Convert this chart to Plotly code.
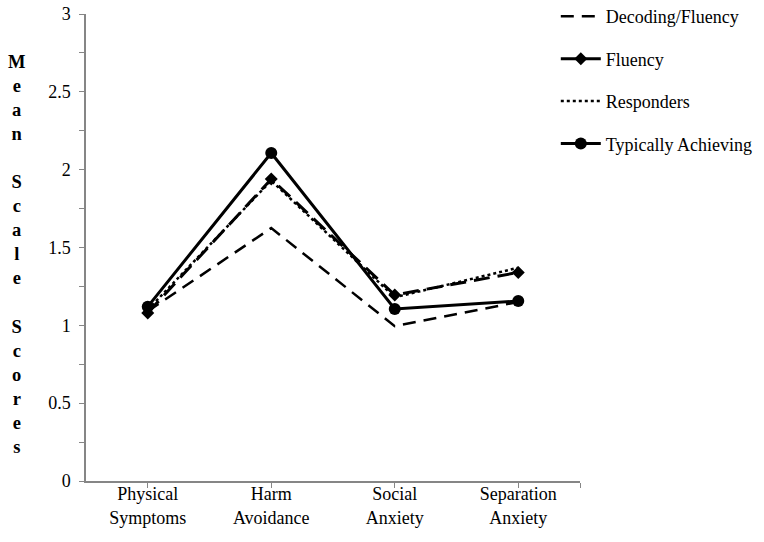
import plotly.graph_objects as go

categories = ["Physical<br>Symptoms", "Harm<br>Avoidance", "Social<br>Anxiety", "Separation<br>Anxiety"]
decoding_fluency = [1.09, 1.625, 0.995, 1.15]
fluency = [1.08, 1.94, 1.195, 1.34]
responders = [1.10, 1.93, 1.18, 1.37]
typically_achieving = [1.12, 2.107, 1.105, 1.156]

y_title_letters = list("Mean") + [""] + list("Scale") + [""] + list("Scores")

xs = list(range(len(categories)))
FONT = "Liberation Serif, Times New Roman, serif"

fig = go.Figure()
fig.add_trace(go.Scatter(x=xs, y=decoding_fluency, name="Decoding/Fluency", mode="lines",
                         line=dict(color="black", width=2.5, dash="13px,8px"), legendgroup="a"))
fig.add_trace(go.Scatter(x=xs, y=fluency, name="Fluency", mode="lines+markers",
                         line=dict(color="black", width=3, dash="16px,8px"),
                         marker=dict(symbol="diamond", size=10, color="black"), legendgroup="b"))
fig.add_trace(go.Scatter(x=xs, y=responders, name="Responders", mode="lines",
                         line=dict(color="black", width=2.5, dash="3px,3px"), legendgroup="c"))
fig.add_trace(go.Scatter(x=xs, y=typically_achieving, name="Typically Achieving", mode="lines+markers",
                         line=dict(color="black", width=3),
                         marker=dict(symbol="circle", size=12, color="black"), legendgroup="d"))

fig.update_layout(
    width=764, height=542,
    margin=dict(l=86, r=184, t=14, b=61, autoexpand=False),
    paper_bgcolor="white", plot_bgcolor="white",
    font=dict(family=FONT, size=18, color="black"),
    showlegend=True,
    legend=dict(x=0.951, y=1.034, xanchor="left", yanchor="top", tracegroupgap=16,
                font=dict(family=FONT, size=18, color="black"), bgcolor="rgba(0,0,0,0)",
                itemwidth=40),
    xaxis=dict(range=[-0.5, 3.5], tickmode="array", tickvals=xs + [3.5],
               ticktext=categories + [""], showline=True, linecolor="#868686", linewidth=1.5,
               ticks="outside", ticklen=5, tickcolor="#868686", showgrid=False, zeroline=False,
               automargin=False, ticklabelstandoff=-9,
               tickfont=dict(family=FONT, size=18, color="black")),
    yaxis=dict(range=[0, 3], dtick=0.5, showline=True, linecolor="#868686",
               linewidth=1.5, ticks="outside", ticklen=5, tickcolor="#868686", showgrid=False,
               zeroline=False, automargin=False, ticklabelstandoff=5,
               tickfont=dict(family=FONT, size=18, color="black"),
               minor=dict(dtick=0.25, ticks="outside", ticklen=5, tickcolor="#868686", showgrid=False)),
)

fig.add_annotation(text="<b>" + "<br>".join(y_title_letters) + "</b>", xref="paper", yref="paper",
                   x=-0.1417, y=0.485, xanchor="center", yanchor="middle", showarrow=False,
                   font=dict(family=FONT, size=18.5, color="black"), align="center")

fig.write_html("out.html", config={"displayModeBar": False},
               post_script="document.body.style.margin='0px';")
